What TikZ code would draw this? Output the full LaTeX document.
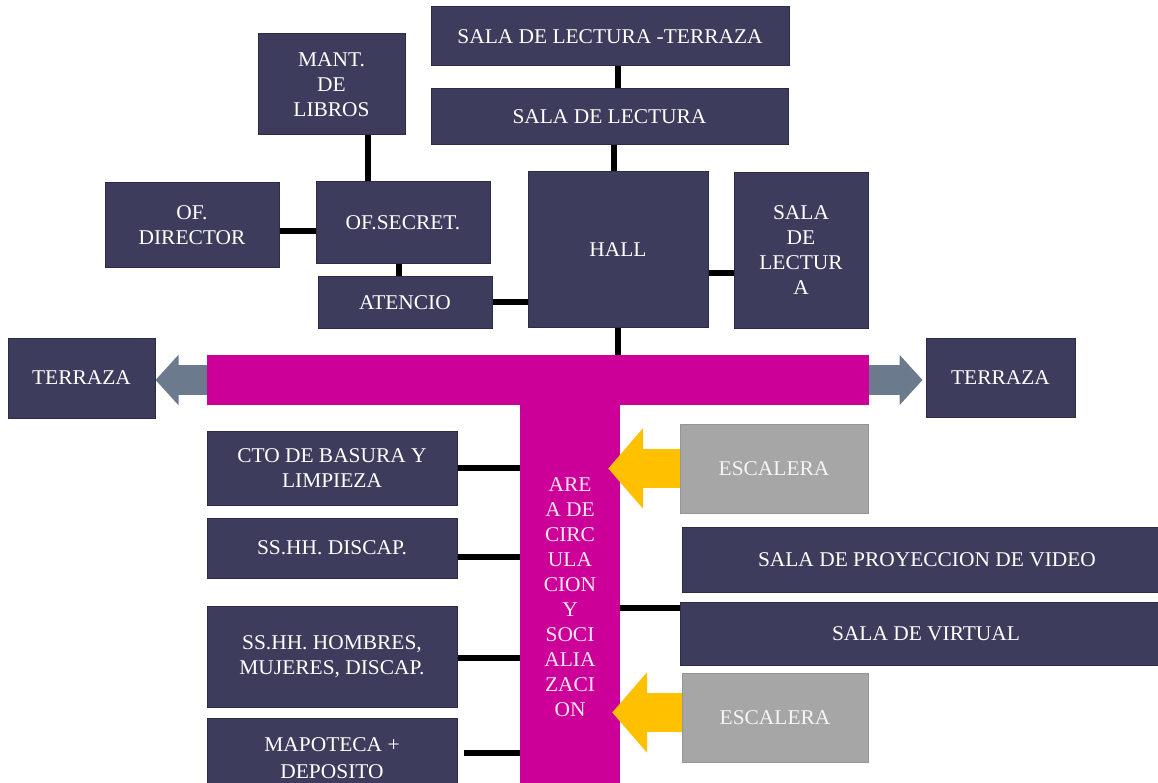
\documentclass[tikz,border=0pt]{standalone}
\usepackage{fontspec}
\setmainfont{Liberation Serif}[FakeStretch=1.02]
\usetikzlibrary{arrows.meta,calc}
\definecolor{navy}{RGB}{62,60,92}
\definecolor{navyd}{RGB}{45,44,70}
\definecolor{mag}{RGB}{204,0,153}
\definecolor{escg}{RGB}{166,166,166}
\definecolor{yel}{RGB}{255,192,0}
\definecolor{slate}{RGB}{108,122,142}
\definecolor{pinkw}{RGB}{252,232,246}
\begin{document}
\begin{tikzpicture}[x=1pt,y=-1pt,
  box/.style={fill=navy,draw=navyd,line width=1pt,text=white,align=center,inner sep=0pt,
    font=\fontsize{21}{25}\selectfont},
  escbox/.style={box,fill=escg,draw=escg!90!black,text=white!92!gray},
  magbar/.style={fill=mag,draw=none,inner sep=0pt,text=pinkw,align=center,
    font=\fontsize{21}{25}\selectfont},
  conn/.style={line width=6pt,black},
  grar/.style={slate,line width=30pt,-{Triangle[length=23pt,width=49pt]}},
  yelar/.style={yel,line width=39pt,-{Triangle[length=35pt,width=79pt]}}
]
\clip (0,0) rectangle (1158,783);
\fill[white] (0,0) rectangle (1158,783);

% top part
\node[box,minimum width=358pt,minimum height=59pt] (salat) at (610,36.5) {SALA DE LECTURA -TERRAZA};
\node[box,minimum width=357pt,minimum height=56pt] (salal) at (609.5,117) {SALA DE LECTURA};
\node[box,minimum width=147pt,minimum height=101pt] (mant) at (331.5,84.5) {MANT.\\DE\\LIBROS};
\node[box,minimum width=174pt,minimum height=85pt] (ofdir) at (192,225.5) {OF.\\DIRECTOR};
\node[box,minimum width=174pt,minimum height=82pt] (ofsec) at (403,223) {OF.SECRET.};
\node[box,minimum width=174pt,minimum height=51pt] (aten) at (405,302.5) {ATENCIO};
\node[box,minimum width=180pt,minimum height=155pt] (hall) at (618,249.5) {HALL};
\node[box,minimum width=134pt,minimum height=155pt] (salar) at (801,250.5) {SALA\\DE\\LECTUR\\A};

% terraces
\node[box,minimum width=147pt,minimum height=80pt] (terl) at (81.5,378) {TERRAZA};
\node[box,minimum width=149pt,minimum height=79pt] (terr) at (1000.5,377.5) {TERRAZA};

% circulation T
\node[magbar,minimum width=662pt,minimum height=50pt] (hbar) at (538,380) {};
\node[magbar,minimum width=100pt,minimum height=388pt] (vbar) at (570,597)
  {ARE\\A DE\\CIRC\\ULA\\CION\\Y\\SOCI\\ALIA\\ZACI\\ON};

% left column
\node[box,minimum width=250pt,minimum height=74pt] (cto) at (332,468) {CTO DE BASURA Y\\LIMPIEZA};
\node[box,minimum width=250pt,minimum height=60pt] (sshd) at (332,548) {SS.HH. DISCAP.};
\node[box,minimum width=250pt,minimum height=101pt] (hom) at (332,656.5) {SS.HH. HOMBRES,\\MUJERES, DISCAP.};
\node[box,minimum width=250pt,minimum height=80pt] (mapo) at (332,758) {MAPOTECA +\\[2pt]DEPOSITO};

% right column
\node[escbox,minimum width=188pt,minimum height=89pt] (esc1) at (774,468.5) {ESCALERA};
\node[box,minimum width=490pt,minimum height=65pt] (proy) at (927,559.5) {SALA DE PROYECCION DE VIDEO};
\node[box,minimum width=492pt,minimum height=63pt] (virt) at (926,633.5) {SALA DE VIRTUAL};
\node[escbox,minimum width=186pt,minimum height=89pt] (esc2) at (775,717.5) {ESCALERA};

% connectors
\draw[conn] (salat.south -| hall.north) -- (salal.north -| hall.north);
\draw[conn] ($(salal.south -| hall.north)+(-4,0)$) -- ($(hall.north)+(-4,0)$);
\draw[conn] ($(mant.south)+(36,0)$) -- ($(mant.south |- ofsec.north)+(36,0)$);
\draw[conn] ($(ofdir.east)+(0,5.5)$) -- ($(ofsec.west |- ofdir.east)+(0,5.5)$);
\draw[conn] ($(ofsec.south)+(-4,0)$) -- ($(ofsec.south |- aten.north)+(-4,0)$);
\draw[conn] (aten.east) -- (aten.east -| hall.west);
\draw[conn] ($(hall.east)+(0,23.5)$) -- ($(salar.west |- hall.east)+(0,23.5)$);
\draw[conn] (hall.south) -- (hall.south |- hbar.north);
\draw[conn] (cto.east) -- (cto.east -| vbar.west);
\draw[conn] ($(sshd.east)+(0,9)$) -- ($(vbar.west |- sshd.east)+(0,9)$);
\draw[conn] ($(hom.east)+(0,1.5)$) -- ($(vbar.west |- hom.east)+(0,1.5)$);
\draw[conn] ($(mapo.east)+(6,-5)$) -- ($(vbar.west |- mapo.east)+(0,-5)$);
\draw[conn] ($(virt.west)+(0,-25.5)$) -- ($(vbar.east |- virt.west)+(0,-25.5)$);

% arrows
\draw[grar] (hbar.west) -- (terl.east |- hbar.west);
\draw[grar] (hbar.east) -- ($(terr.west |- hbar.east)+(-3,0)$);
\draw[yelar] (esc1.west) -- ($(vbar.east |- esc1.west)+(-12,0)$);
\draw[yelar] ($(esc2.west)+(0,-5)$) -- ($(vbar.east |- esc2.west)+(-8,-5)$);
\end{tikzpicture}
\end{document}
